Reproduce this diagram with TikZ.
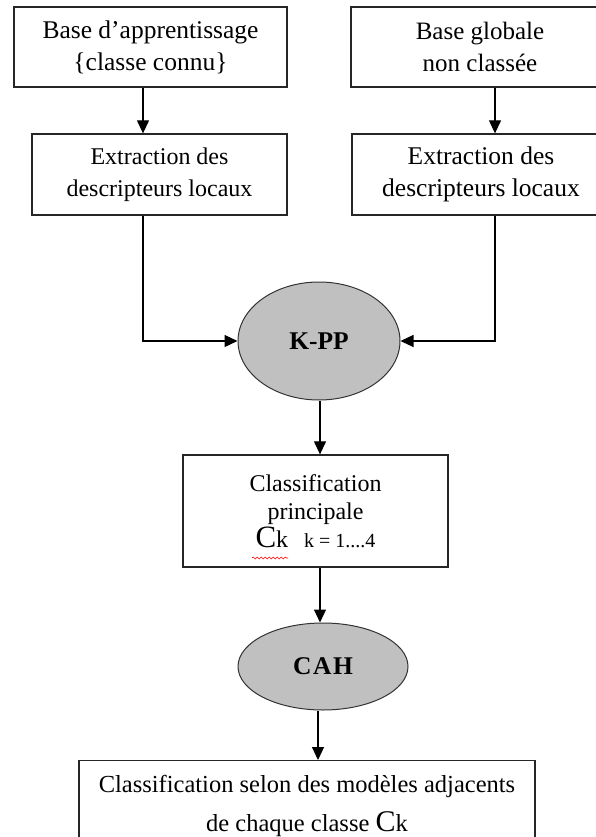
\documentclass[tikz,border=0pt]{standalone}
\usepackage{fontspec}
\setmainfont{Liberation Serif}
\usetikzlibrary{shapes.geometric,arrows.meta,calc,decorations.pathmorphing}
\definecolor{ovalgray}{HTML}{C0C0C0}
\begin{document}
\begin{tikzpicture}[x=1pt,y=-1pt,
  box/.style={draw=black!85,line width=1.3pt,align=center,inner sep=0pt,
              font=\fontsize{24}{32}\selectfont},
  oval/.style={ellipse,draw=black!80,line width=1pt,fill=ovalgray,inner sep=0pt,
               font=\fontsize{25.5}{28}\selectfont\bfseries},
  conn/.style={line width=1.2pt,-{Triangle[length=13pt,width=12pt]}},
  squiggle/.style={red,line width=0.6pt,decorate,
                   decoration={snake,amplitude=1pt,segment length=4pt}}
]
\useasboundingbox (0,0) rectangle (596,837);
\clip (0,0) rectangle (596,837);

\node[box,minimum width=273pt,minimum height=80pt,font=\fontsize{25.5}{32}\selectfont] (b1) at (150.5,47)
  {Base d’apprentissage\\\{classe connu\}};
\node[box,minimum width=255pt,minimum height=81pt] (b2) at (159.5,174.5)
  {Extraction des\\descripteurs locaux};
\node[box,minimum width=258pt,minimum height=80pt,font=\fontsize{25}{32}\selectfont] (b3) at (480,47)
  {Base globale\\non classée};
\node[box,minimum width=258pt,minimum height=81pt,font=\fontsize{25.5}{32}\selectfont] (b4) at (481,174.5)
  {Extraction des\\descripteurs locaux};
\node[oval,minimum width=162pt,minimum height=118pt] (kpp) at (319,341) {K-PP};
\node[box,minimum width=265pt,minimum height=112pt,font=\fontsize{24}{28}\selectfont] (b5) at (315.5,511)
  {Classification\\principale\\{\fontsize{31}{31}\selectfont C}k\hspace{16pt}{\fontsize{20}{20}\selectfont k = 1....4}};
\node[oval,minimum width=170pt,minimum height=87pt] (cah) at (323,666.5) {\addfontfeature{LetterSpace=6}CAH};
\node[box,anchor=north,minimum width=456pt,minimum height=90pt,font=\fontsize{24.5}{32}\selectfont] (b6) at (307,760)
  {Classification selon des modèles adjacents\\[7pt]de chaque classe {\fontsize{30}{30}\selectfont C}k};

\draw[conn] ([xshift=-7.5pt]b1.south) -- ([xshift=-7.5pt]b1.south |- b2.north);
\draw[conn] ([xshift=15pt]b3.south) -- ([xshift=15pt]b3.south |- b4.north);
\draw[conn] ([xshift=-16.5pt]b2.south) |- (kpp.west);
\draw[conn] ([xshift=14pt]b4.south) |- (kpp.east);
\draw[conn] ([xshift=1pt]kpp.south) -- ([xshift=1pt]kpp.south |- b5.north);
\draw[conn] ([xshift=4.5pt]b5.south) -- ([xshift=4.5pt]b5.south |- cah.north);
\draw[conn] ([xshift=-5pt]cah.south) -- ([xshift=-5pt]cah.south |- b6.north);

\coordinate (sq1) at (252,558);
\coordinate (sq2) at (288,558);
\draw[squiggle] (sq1) -- (sq2);
\end{tikzpicture}
\end{document}
